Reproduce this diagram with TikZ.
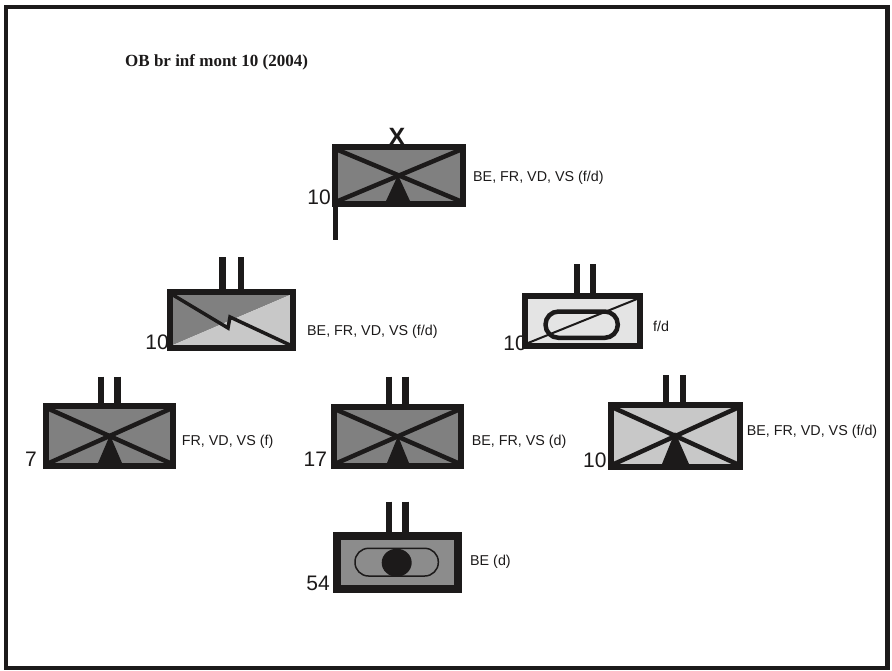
\documentclass[tikz,border=0pt]{standalone}
\usepackage{fontspec}
\setmainfont{Liberation Serif}
\newfontfamily\labfont{Liberation Sans}
\usepackage{xcolor}
\usetikzlibrary{positioning}

\definecolor{ink}{RGB}{28,26,26}
\definecolor{midgray}{RGB}{128,128,128}
\definecolor{litegray}{RGB}{200,200,200}
\definecolor{palegray}{RGB}{228,228,228}
\definecolor{boxgray}{RGB}{140,140,140}

\begin{document}
\begin{tikzpicture}[
    x=1pt, y=-1pt,
    every node/.style = {inner sep=0pt, text=ink},
    unitbox/.style = {draw=ink, line width=6pt},
    crossline/.style = {draw=ink, line width=4.5pt},
    echelon/.style = {draw=ink, line width=6.5pt},
    numlabel/.style = {anchor=base east, font=\labfont\fontsize{21}{24}\selectfont},
    txtlabel/.style = {anchor=west, font=\labfont\fontsize{14.3}{16}\selectfont}
  ]
  \useasboundingbox (0,0) rectangle (892,670);
  \fill[white] (0,0) rectangle (892,670);
  \draw[ink, line width=4.5pt] (5.8,7) rectangle (887.5,668);

  % titre
  \node[anchor=base west, font=\bfseries\fontsize{17}{20}\selectfont] (title) at (125,66.7) {OB br inf mont 10 (2004)};

  % brigade
  \begin{scope}[shift={(332,144)}]
    \fill[midgray] (3,3) rectangle (131,60);
    \draw[crossline] (6,6) -- (128,57);
    \draw[crossline] (6,57) -- (128,6);
    \fill[ink] (66,31) -- (54,57) -- (78,57) -- cycle;
    \draw[unitbox] (3,3) rectangle (131,60);
    \draw[ink, line width=5pt] (3.5,60) -- (3.5,96);
    \node[anchor=base, font=\labfont\bfseries\fontsize{25}{28}\selectfont] (ech1) at (65,1) {X};
    \node[numlabel] (n1) at (-1,60) {10};
    \node[txtlabel] (l1) at (141,34) {BE, FR, VD, VS (f/d)};
  \end{scope}

  % bataillon transmissions
  \begin{scope}[shift={(167,289)}]
    \fill[midgray] (6,6) -- (123,6) -- (6,56) -- cycle;
    \fill[litegray] (123,6) -- (123,56) -- (6,56) -- cycle;
    \draw[ink, line width=3.5pt] (6,6) -- (61,39) -- (63,28) -- (123,56);
    \draw[unitbox] (3,3) rectangle (126,59);
    \draw[echelon] (55.5,-32) -- (55.5,3);
    \draw[echelon] (74,-32) -- (74,3);
    \node[numlabel] (n2) at (2,60) {10};
    \node[txtlabel] (l2) at (140,42.7) {BE, FR, VD, VS (f/d)};
  \end{scope}

  % bataillon f/d
  \begin{scope}[shift={(522,293)}]
    \fill[palegray] (3,3) rectangle (118,53);
    \draw[ink, line width=2pt] (6,50) -- (115,6);
    \draw[ink, line width=4.5pt, rounded corners=13pt] (23.5,18.5) rectangle (95.8,44.8);
    \draw[unitbox] (3,3) rectangle (118,53);
    \draw[echelon] (55,-29) -- (55,3);
    \draw[echelon] (71,-29) -- (71,3);
    \node[numlabel] (n3) at (5,57) {10};
    \node[txtlabel] (l3) at (131,33) {f/d};
  \end{scope}

  % bataillon 7
  \begin{scope}[shift={(43,403)}]
    \fill[midgray] (3,3) rectangle (130,63);
    \draw[crossline] (6,6) -- (127,60);
    \draw[crossline] (6,60) -- (127,6);
    \fill[ink] (67,32) -- (55,60) -- (79,60) -- cycle;
    \draw[unitbox] (3,3) rectangle (130,63);
    \draw[echelon] (57.8,-26.3) -- (57.8,3);
    \draw[echelon] (74.5,-26.3) -- (74.5,3);
    \node[numlabel] (n4) at (-6,63.7) {7};
    \node[txtlabel] (l4) at (138.7,38.7) {FR, VD, VS (f)};
  \end{scope}

  % bataillon 17
  \begin{scope}[shift={(331,404)}]
    \fill[midgray] (3,3) rectangle (130,62);
    \draw[crossline] (6,6) -- (127,59);
    \draw[crossline] (6,59) -- (127,6);
    \fill[ink] (67,32) -- (56,59) -- (78,59) -- cycle;
    \draw[unitbox] (3,3) rectangle (130,62);
    \draw[echelon] (58,-27.3) -- (58,3);
    \draw[echelon] (74.5,-27.3) -- (74.5,3);
    \node[numlabel] (n5) at (-3.7,62) {17};
    \node[txtlabel] (l5) at (140.7,37.7) {BE, FR, VS (d)};
  \end{scope}

  % bataillon 10 droite
  \begin{scope}[shift={(608,402)}]
    \fill[litegray] (3,3) rectangle (132,65);
    \draw[crossline] (6,6) -- (129,62);
    \draw[crossline] (6,62) -- (129,6);
    \fill[ink] (67,30) -- (54,62) -- (81,62) -- cycle;
    \draw[unitbox] (3,3) rectangle (132,65);
    \draw[echelon] (58,-27) -- (58,3);
    \draw[echelon] (75,-27) -- (75,3);
    \node[numlabel] (n6) at (-1.3,65) {10};
    \node[txtlabel] (l6) at (138.7,29.7) {BE, FR, VD, VS (f/d)};
  \end{scope}

  % bataillon 54
  \begin{scope}[shift={(333,532)}]
    \fill[boxgray] (4,4) rectangle (125,57);
    \draw[ink, line width=1.5pt, rounded corners=13.5pt] (22,16.3) rectangle (105.3,44);
    \fill[ink] (63.7,30.7) ellipse [x radius=15, y radius=14];
    \draw[unitbox, line width=8pt] (4,4) rectangle (125,57);
    \draw[echelon] (55.8,-30.3) -- (55.8,4);
    \draw[echelon] (72.5,-30.3) -- (72.5,4);
    \node[numlabel] (n7) at (-3,58.7) {54};
    \node[txtlabel] (l7) at (137,29.7) {BE (d)};
  \end{scope}
\end{tikzpicture}
\end{document}
